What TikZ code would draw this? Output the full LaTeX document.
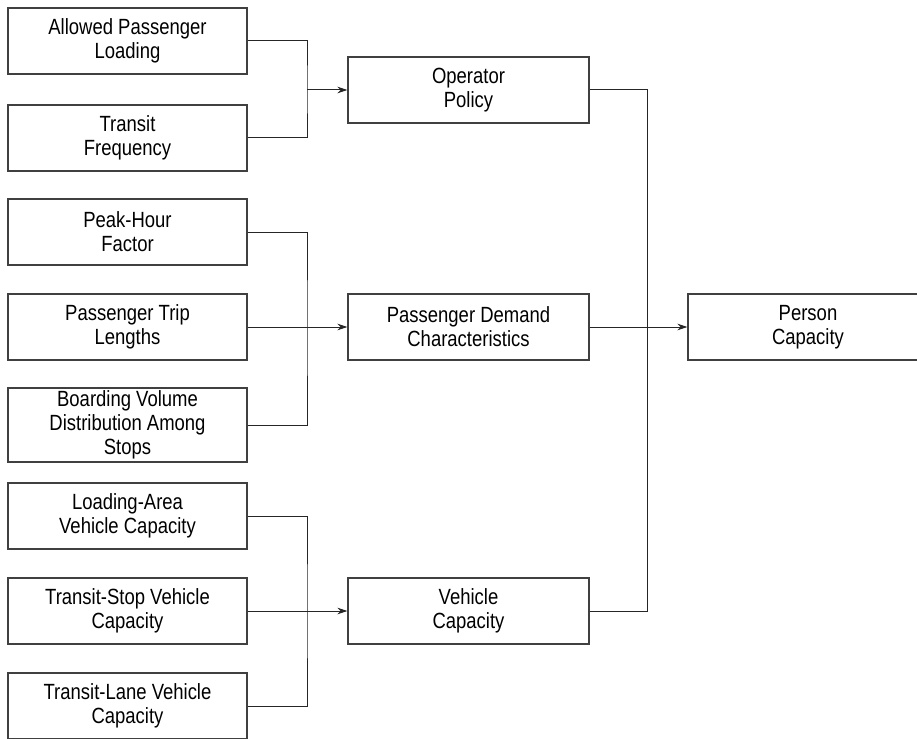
\documentclass[tikz,border=0pt]{standalone}
\usepackage{fontspec}
\setmainfont[FakeStretch=0.84]{Liberation Sans}
\usetikzlibrary{arrows.meta}
\begin{document}
\begin{tikzpicture}[x=1pt,y=-1pt,
 box/.style={draw=black!75, line width=1.1pt, minimum width=239pt, minimum height=66pt, align=center, inner sep=0pt, font=\fontsize{22}{24}\selectfont},
 conn/.style={draw=black!85, line width=1pt},
 arr/.style={conn, -{Stealth[length=10pt,width=6.5pt]}}]
\useasboundingbox (0,0) rectangle (917,738);
\clip (0,0) rectangle (917,738);
\node[box] (a1) at (127.5,41) {Allowed Passenger\\Loading};
\node[box] (a2) at (127.5,138) {Transit\\Frequency};
\node[box] (a3) at (127.5,232) {Peak-Hour\\Factor};
\node[box] (a4) at (127.5,327) {Passenger Trip\\Lengths};
\node[box, minimum height=74pt] (a5) at (127.5,425) {Boarding Volume\\Distribution Among\\Stops};
\node[box] (a6) at (127.5,516) {Loading-Area\\Vehicle Capacity};
\node[box] (a7) at (127.5,611) {Transit-Stop Vehicle\\Capacity};
\node[box] (a8) at (127.5,706) {Transit-Lane Vehicle\\Capacity};
\node[box, minimum width=241pt] (op) at (468.5,90) {Operator\\Policy};
\node[box, minimum width=241pt] (pd) at (468.5,327) {Passenger Demand\\Characteristics};
\node[box, minimum width=241pt] (vc) at (468.5,611) {Vehicle\\Capacity};
\node[box, minimum width=240pt] (pc) at (808,327) {Person\\Capacity};
\coordinate (j1) at (307,90);
\coordinate (j2) at (307,327);
\coordinate (j3) at (307,611);
\coordinate (j4) at (647,327);
\draw[conn] (a1.east) -| (j1) |- (a2.east);
\draw[arr] (j1) -- (op.west);
\draw[conn] (a3.east) -| (j2) |- (a5.east);
\draw[arr] (a4.east) -- (pd.west);
\draw[conn] (a6.east) -| (j3) |- (a8.east);
\draw[arr] (a7.east) -- (vc.west);
\draw[conn] (op.east) -| (j4) |- (vc.east);
\draw[arr] (pd.east) -- (pc.west);
\end{tikzpicture}
\end{document}
